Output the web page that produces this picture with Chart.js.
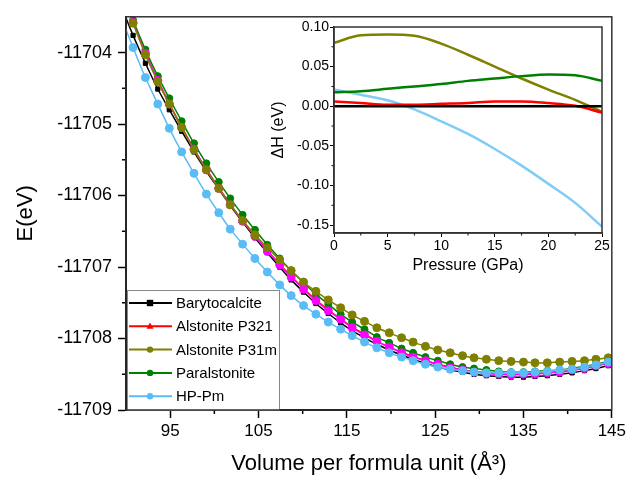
<!DOCTYPE html>
<html lang="en">
<head>
    <meta charset="UTF-8">
    <title>E vs volume per formula unit</title>
    <script src="https://cdn.jsdelivr.net/npm/chart.js@4"></script>
    <style>
        html, body { margin: 0; padding: 0; background: #fff; }
        #wrap { position: relative; width: 629px; height: 477px; }
        #mainChart { position: absolute; left: 0; top: 0; }
        #insetChart { position: absolute; left: 268px; top: 16px; }
    </style>
</head>
<body>
<div id="wrap">
    <canvas id="mainChart" width="629" height="477"></canvas>
    <canvas id="insetChart" width="346" height="264"></canvas>
</div>
<script>
// ---- main plot data: E (eV) against volume per formula unit (A^3) ----
const volume = [89.4, 90.8, 92.2, 93.6, 94.9, 96.3, 97.7, 99.1, 100.5, 101.8, 103.2, 104.6, 106.0, 107.4,
    108.7, 110.1, 111.5, 112.9, 114.3, 115.6, 117.0, 118.4, 119.8, 121.2, 122.5, 123.9, 125.3, 126.7,
    128.1, 129.4, 130.8, 132.2, 133.6, 135.0, 136.3, 137.7, 139.1, 140.5, 141.9, 143.2, 144.6, 146.0];

const barytocalcite = [-11703.33, -11703.76, -11704.15, -11704.51, -11704.80, -11705.10, -11705.39, -11705.66,
    -11705.91, -11706.14, -11706.37, -11706.59, -11706.80, -11707.00, -11707.18, -11707.35, -11707.51, -11707.65,
    -11707.78, -11707.89, -11707.99, -11708.08, -11708.16, -11708.23, -11708.29, -11708.35, -11708.40, -11708.44,
    -11708.47, -11708.50, -11708.52, -11708.53, -11708.54, -11708.54, -11708.53, -11708.52, -11708.50, -11708.48,
    -11708.45, -11708.42, -11708.38, -11708.34];

const alstoniteP321 = [-11703.13, -11703.57, -11704.00, -11704.39, -11704.71, -11705.04, -11705.35, -11705.63,
    -11705.89, -11706.12, -11706.35, -11706.56, -11706.77, -11706.96, -11707.13, -11707.30, -11707.46, -11707.60,
    -11707.73, -11707.84, -11707.94, -11708.04, -11708.12, -11708.19, -11708.25, -11708.31, -11708.36, -11708.40,
    -11708.44, -11708.46, -11708.48, -11708.50, -11708.50, -11708.50, -11708.49, -11708.48, -11708.46, -11708.44,
    -11708.41, -11708.38, -11708.34, -11708.30];

const alstoniteP31m = [-11703.14, -11703.59, -11704.03, -11704.41, -11704.72, -11705.05, -11705.36, -11705.64,
    -11705.90, -11706.13, -11706.35, -11706.55, -11706.73, -11706.90, -11707.05, -11707.21, -11707.34, -11707.46,
    -11707.57, -11707.67, -11707.76, -11707.85, -11707.92, -11707.99, -11708.05, -11708.11, -11708.16, -11708.20,
    -11708.24, -11708.27, -11708.29, -11708.31, -11708.32, -11708.33, -11708.34, -11708.34, -11708.33, -11708.32,
    -11708.31, -11708.29, -11708.27, -11708.24];

const paralstonite = [-11703.10, -11703.55, -11703.96, -11704.33, -11704.64, -11704.96, -11705.27, -11705.55,
    -11705.81, -11706.04, -11706.27, -11706.48, -11706.69, -11706.88, -11707.05, -11707.22, -11707.38, -11707.52,
    -11707.66, -11707.77, -11707.87, -11707.98, -11708.06, -11708.14, -11708.20, -11708.26, -11708.31, -11708.36,
    -11708.40, -11708.42, -11708.44, -11708.46, -11708.47, -11708.47, -11708.46, -11708.45, -11708.44, -11708.42,
    -11708.39, -11708.36, -11708.32, -11708.28];

const hpPm = [-11703.49, -11703.93, -11704.35, -11704.72, -11705.06, -11705.39, -11705.69, -11705.98,
    -11706.24, -11706.47, -11706.68, -11706.88, -11707.07, -11707.25, -11707.40, -11707.54, -11707.66, -11707.77,
    -11707.87, -11707.96, -11708.05, -11708.13, -11708.20, -11708.26, -11708.31, -11708.36, -11708.40, -11708.43,
    -11708.45, -11708.47, -11708.48, -11708.48, -11708.48, -11708.48, -11708.47, -11708.46, -11708.44, -11708.43,
    -11708.40, -11708.37, -11708.33, -11708.29];

// unlabelled magenta curve sitting on top of Alstonite P321
const magentaCurve = [-11703.14, -11703.58, -11704.01, -11704.39, -11704.72, -11705.05, -11705.35, -11705.64,
    -11705.90, -11706.13, -11706.36, -11706.57, -11706.78, -11706.97, -11707.14, -11707.31, -11707.47, -11707.61,
    -11707.73, -11707.85, -11707.95, -11708.04, -11708.12, -11708.20, -11708.26, -11708.31, -11708.36, -11708.41,
    -11708.44, -11708.47, -11708.49, -11708.50, -11708.51, -11708.50, -11708.50, -11708.48, -11708.47, -11708.44,
    -11708.42, -11708.38, -11708.35, -11708.31];

const volumeTicks = [95, 105, 115, 125, 135, 145];
const volumeMinor = [100, 110, 120, 130, 140];
const energyTicks = [-11709, -11708, -11707, -11706, -11705, -11704];
const energyMinor = [-11708.5, -11707.5, -11706.5, -11705.5, -11704.5];

// ---- inset data: enthalpy difference against pressure ----
const pressure = [0, 2.5, 5, 7.5, 10, 12.5, 15, 17.5, 20, 22.5, 25];
const dhBarytocalcite = [0, 0, 0, 0, 0, 0, 0, 0, 0, 0, 0];
const dhP321 = [0.006, 0.004, 0.002, 0.002, 0.003, 0.004, 0.006, 0.006, 0.004, 0.0005, -0.008];
const dhP31m = [0.080, 0.0895, 0.0905, 0.089, 0.079, 0.065, 0.050, 0.035, 0.021, 0.008, -0.007];
const dhParalstonite = [0.0175, 0.019, 0.022, 0.025, 0.028, 0.032, 0.035, 0.038, 0.040, 0.039, 0.032];
const dhHpPm = [0.021, 0.0145, 0.0075, -0.004, -0.019, -0.035, -0.054, -0.075, -0.098, -0.122, -0.152];

const pressureTicks = [0, 5, 10, 15, 20, 25];
const pressureMinor = [2.5, 7.5, 12.5, 17.5, 22.5];
const dhTicks = [-0.15, -0.10, -0.05, 0.00, 0.05, 0.10];
const dhMinor = [-0.125, -0.075, -0.025, 0.025, 0.075];

const FONT = 'Arial, "Liberation Sans", sans-serif';
Chart.defaults.font.family = FONT;
Chart.defaults.color = '#000';

const series = [
    {name: 'Barytocalcite', values: barytocalcite, color: '#000000', marker: 'rect', radius: 3, order: 5, legend: true},
    {name: 'Alstonite P321', values: alstoniteP321, color: '#ff0000', marker: 'triangle', radius: 4, order: 4, legend: true},
    {name: 'Alstonite P31m', values: alstoniteP31m, color: '#808000', marker: 'circle', radius: 4, order: 1, legend: true},
    {name: 'Paralstonite', values: paralstonite, color: '#008000', marker: 'circle', radius: 3.5, order: 3, legend: true},
    {name: 'HP-Pm', values: hpPm, color: '#5bbcf5', marker: 'circle', radius: 4, order: 0, legend: true},
    {name: '', values: magentaCurve, color: '#ff00ff', marker: 'circle', radius: 4, order: 2, legend: false}
];

function drawMarker(ctx, style, x, y, r, color) {
    ctx.fillStyle = color;
    ctx.beginPath();
    if (style === 'rect') {
        ctx.rect(x - r, y - r, 2 * r, 2 * r);
    } else if (style === 'triangle') {
        ctx.moveTo(x, y - r * 1.2);
        ctx.lineTo(x + r * 1.1, y + r * 0.8);
        ctx.lineTo(x - r * 1.1, y + r * 0.8);
        ctx.closePath();
    } else {
        ctx.arc(x, y, r, 0, Math.PI * 2);
    }
    ctx.fill();
}

// short minor ticks + closed frame round the plot area
const frameTicks = {
    id: 'frameTicks',
    afterDraw(chart, args, opts) {
        const ctx = chart.ctx;
        const a = chart.chartArea;
        const xs = chart.scales.x, ys = chart.scales.y;
        ctx.save();
        ctx.strokeStyle = '#000';
        ctx.lineWidth = opts.tickWidth;
        opts.xMinor.forEach(v => {
            const p = xs.getPixelForValue(v);
            ctx.beginPath(); ctx.moveTo(p, a.bottom); ctx.lineTo(p, a.bottom + opts.len); ctx.stroke();
        });
        opts.yMinor.forEach(v => {
            const p = ys.getPixelForValue(v);
            ctx.beginPath(); ctx.moveTo(a.left, p); ctx.lineTo(a.left - opts.len, p); ctx.stroke();
        });
        ctx.strokeStyle = opts.frameColor;
        ctx.lineWidth = opts.frameWidth;
        ctx.strokeRect(a.left, a.top, a.right - a.left, a.bottom - a.top);
        ctx.restore();
    }
};

// boxed legend in the lower-left corner of the plot
const boxLegend = {
    id: 'boxLegend',
    afterDatasetsDraw(chart) {
        const {ctx, chartArea} = chart;
        const items = series.filter(s => s.legend);
        const rowH = 23.3;
        const w = 153, h = items.length * rowH + 3.5;
        const left = chartArea.left + 1, top = chartArea.bottom - h;
        ctx.save();
        ctx.fillStyle = '#fff';
        ctx.fillRect(left, top, w, h);
        ctx.strokeStyle = '#888';
        ctx.lineWidth = 1;
        ctx.strokeRect(left + 0.5, top + 0.5, w - 1, h);
        ctx.font = '15px ' + FONT;
        ctx.textBaseline = 'middle';
        items.forEach((s, i) => {
            const y = top + 13 + i * rowH;
            ctx.strokeStyle = s.color;
            ctx.lineWidth = 2;
            ctx.beginPath(); ctx.moveTo(left + 2, y); ctx.lineTo(left + 45, y); ctx.stroke();
            drawMarker(ctx, s.marker, left + 23, y, 3.2, s.color);
            ctx.fillStyle = '#000';
            ctx.fillText(s.name, left + 49, y + 1);
        });
        ctx.restore();
    }
};

const mainChart = new Chart(document.getElementById('mainChart'), {
    type: 'line',
    data: {
        datasets: series.map(s => ({
            label: s.name,
            data: volume.map((v, i) => ({x: v, y: s.values[i]})),
            borderColor: s.color,
            backgroundColor: s.color,
            borderWidth: 1.5,
            pointStyle: s.marker,
            pointRadius: s.radius,
            pointBorderWidth: 1,
            pointBorderColor: s.color,
            tension: 0.3,
            order: s.order
        }))
    },
    options: {
        responsive: false,
        animation: false,
        devicePixelRatio: 1,
        layout: {padding: {top: 16, right: 15, left: 0, bottom: 0}},
        plugins: {
            legend: {display: false},
            tooltip: {enabled: false},
            frameTicks: {xMinor: volumeMinor, yMinor: energyMinor, len: 4, tickWidth: 1.5, frameWidth: 1.5, frameColor: '#333'}
        },
        scales: {
            x: {
                type: 'linear', min: 90, max: 145,
                afterBuildTicks: scale => { scale.ticks = volumeTicks.map(v => ({value: v})); },
                afterFit: scale => { scale.height = 67; },
                ticks: {font: {size: 17}, padding: 3, maxRotation: 0, callback: v => String(v)},
                grid: {drawOnChartArea: false, tickLength: 8, tickWidth: 1.5, tickColor: '#000'},
                border: {display: true, color: '#000', width: 2},
                title: {display: true, text: 'Volume per formula unit (Å³)', font: {size: 22}, padding: {top: 0, bottom: 0}}
            },
            y: {
                type: 'linear', min: -11709, max: -11703.5,
                afterBuildTicks: scale => { scale.ticks = energyTicks.map(v => ({value: v})); },
                afterFit: scale => { scale.width = 126; },
                ticks: {font: {size: 18}, padding: 6, callback: v => String(v)},
                grid: {drawOnChartArea: false, tickLength: 8, tickWidth: 1.5, tickColor: '#000'},
                border: {display: true, color: '#000', width: 2},
                title: {display: true, text: 'E(eV)', font: {size: 22}, padding: {top: 13, bottom: 0}}
            }
        }
    },
    plugins: [frameTicks, boxLegend]
});

const insetSeries = [
    {values: dhHpPm, color: '#7fcdf7', order: 4},
    {values: dhP31m, color: '#808000', order: 3},
    {values: dhParalstonite, color: '#008000', order: 2},
    {values: dhP321, color: '#ff0000', order: 1},
    {values: dhBarytocalcite, color: '#000000', order: 0}
];

const insetChart = new Chart(document.getElementById('insetChart'), {
    type: 'line',
    data: {
        datasets: insetSeries.map(s => ({
            data: pressure.map((p, i) => ({x: p, y: s.values[i]})),
            borderColor: s.color,
            borderWidth: 2.5,
            pointRadius: 0,
            cubicInterpolationMode: 'monotone',
            order: s.order
        }))
    },
    options: {
        responsive: false,
        animation: false,
        devicePixelRatio: 1,
        layout: {padding: {top: 11, right: 12, left: 0, bottom: 0}},
        plugins: {
            legend: {display: false},
            tooltip: {enabled: false},
            frameTicks: {xMinor: pressureMinor, yMinor: dhMinor, len: 2.5, tickWidth: 1, frameWidth: 1.5, frameColor: '#333'}
        },
        scales: {
            x: {
                type: 'linear', min: 0, max: 25,
                afterBuildTicks: scale => { scale.ticks = pressureTicks.map(v => ({value: v})); },
                afterFit: scale => { scale.height = 47; },
                ticks: {font: {size: 14}, padding: 1, maxRotation: 0, callback: v => String(v)},
                grid: {drawOnChartArea: false, tickLength: 4, tickWidth: 1, tickColor: '#000'},
                border: {display: true, color: '#333', width: 1.5},
                title: {display: true, text: 'Pressure (GPa)', font: {size: 16}, padding: {top: 0, bottom: 5}}
            },
            y: {
                type: 'linear', min: -0.16, max: 0.10,
                afterBuildTicks: scale => { scale.ticks = dhTicks.map(v => ({value: v})); },
                afterFit: scale => { scale.width = 66; },
                ticks: {font: {size: 14}, padding: 1, callback: v => v.toFixed(2)},
                grid: {drawOnChartArea: false, tickLength: 4, tickWidth: 1, tickColor: '#000'},
                border: {display: true, color: '#333', width: 1.5},
                title: {display: true, text: 'ΔH (eV)', font: {size: 16}, padding: {top: 1, bottom: 0}}
            }
        }
    },
    plugins: [frameTicks]
});
</script>
</body>
</html>
